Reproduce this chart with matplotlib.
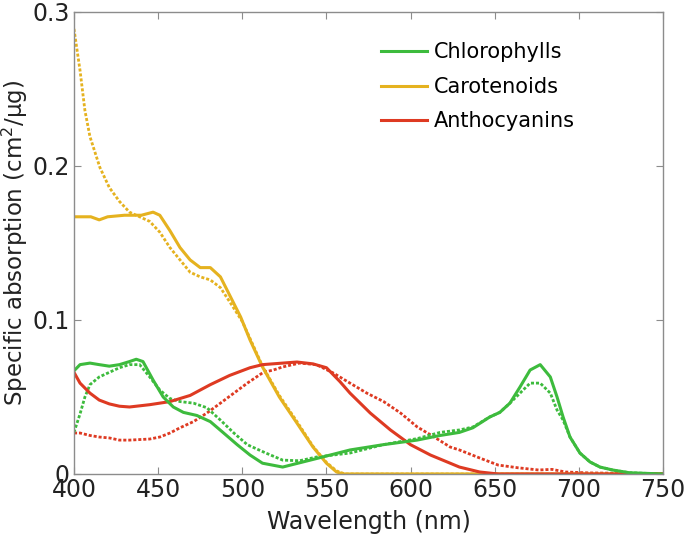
import numpy as np
import matplotlib
matplotlib.use('Agg')
import matplotlib.pyplot as plt

GREEN = '#3dbb3d'
YELLOW = '#e5b21f'
RED = '#de3a22'
GREY = '#8c8c8c'

# Chlorophylls (solid / dashed)
chl_wl = [400, 403.6, 409.5, 415, 421, 427, 433, 437, 441, 447, 453, 459, 465, 473, 481,
          488.5, 497, 504.6, 512, 524, 544, 564, 583.6, 603.8, 617.5, 629, 637, 647, 653,
          659, 665, 671, 677, 683, 687, 690.6, 694.7, 700.6, 706.6, 712.5, 720, 730, 750]
chl_solid = [0.067, 0.071, 0.072, 0.071, 0.070, 0.071, 0.073, 0.0745, 0.073, 0.061, 0.050,
             0.0435, 0.040, 0.038, 0.034, 0.027, 0.019, 0.0123, 0.007, 0.0045, 0.010, 0.0156,
             0.019, 0.022, 0.025, 0.027, 0.030, 0.037, 0.040, 0.046, 0.0565, 0.0675, 0.071,
             0.063, 0.050, 0.037, 0.024, 0.0136, 0.0078, 0.0045, 0.0026, 0.0008, 0.0]
chl_dash_wl = [400, 403.6, 406.5, 409.5, 415, 421, 427, 433, 439, 445, 451, 457, 463, 471,
               479, 487, 495, 503, 514, 524, 534, 544, 564, 583.6, 604, 617.5, 629, 637,
               647, 653, 659, 665, 671, 677, 683, 687, 690.6, 694.7, 700.6, 706.6, 712.5,
               720, 730, 750]
chl_dash = [0.027, 0.039, 0.050, 0.058, 0.063, 0.066, 0.069, 0.071, 0.071, 0.063, 0.0545,
            0.049, 0.047, 0.046, 0.043, 0.035, 0.0266, 0.019, 0.0136, 0.009, 0.0086, 0.011,
            0.0136, 0.019, 0.023, 0.027, 0.0286, 0.0305, 0.037, 0.040, 0.046, 0.0525, 0.059,
            0.059, 0.0525, 0.0415, 0.035, 0.024, 0.0136, 0.0078, 0.0045, 0.0026, 0.0008, 0.0]

# Carotenoids
car_wl = [400, 410, 415, 420, 430, 440, 447, 451, 457, 463, 469, 475, 481, 487, 493, 499,
          504.6, 512, 522, 532.5, 542, 550, 556, 560, 750]
car_solid = [0.167, 0.167, 0.165, 0.167, 0.168, 0.168, 0.170, 0.168, 0.158, 0.147, 0.139,
             0.134, 0.134, 0.128, 0.115, 0.102, 0.087, 0.0695, 0.050, 0.033, 0.0175, 0.007,
             0.0013, 0.0, 0.0]
car_dash_wl = [400, 403.6, 406.5, 409.5, 415.4, 421, 427, 433, 439, 445, 451, 457, 463, 469,
               475, 481, 487, 493, 500, 504.6, 512, 522, 532.5, 542, 550, 556, 561, 750]
car_dash = [0.289, 0.262, 0.236, 0.219, 0.199, 0.186, 0.177, 0.170, 0.167, 0.164, 0.157,
            0.147, 0.139, 0.131, 0.128, 0.126, 0.121, 0.111, 0.099, 0.088, 0.070, 0.051,
            0.034, 0.018, 0.0075, 0.002, 0.0, 0.0]

# Anthocyanins
ant_wl = [400, 403.6, 409.5, 415, 421, 427, 433, 445, 457, 469, 481, 492.5, 504.6, 512,
          524, 532.5, 542, 550, 558, 564, 576, 588, 600, 611.8, 623.5, 629, 641, 652, 750]
ant_solid = [0.066, 0.059, 0.0525, 0.048, 0.0455, 0.044, 0.0435, 0.045, 0.047, 0.051,
             0.058, 0.064, 0.069, 0.071, 0.072, 0.0727, 0.0715, 0.069, 0.060, 0.0525,
             0.0396, 0.0286, 0.019, 0.0123, 0.007, 0.0045, 0.0013, 0.0, 0.0]
ant_dash_wl = [400, 403.6, 409.5, 415, 421, 427, 433, 445, 451, 457, 463, 471, 479, 487,
               495, 503, 512.5, 518.4, 524, 534, 544, 554, 564, 574, 584, 594, 604, 614,
               623.5, 629, 641, 652, 664, 676, 684, 692, 706, 720, 750]
ant_dash = [0.0266, 0.0266, 0.025, 0.024, 0.0234, 0.022, 0.022, 0.0227, 0.024, 0.0266,
            0.030, 0.034, 0.0396, 0.046, 0.0525, 0.059, 0.066, 0.0675, 0.0695, 0.072,
            0.071, 0.0656, 0.059, 0.0525, 0.047, 0.0396, 0.0305, 0.024, 0.0175, 0.0156,
            0.0104, 0.0058, 0.004, 0.0026, 0.003, 0.0013, 0.0007, 0.0005, 0.0]

x_ticks = [400, 450, 500, 550, 600, 650, 700, 750]
y_ticks = [0, 0.1, 0.2, 0.3]
y_labels = ['0', '0.1', '0.2', '0.3']

fig = plt.figure(figsize=(6.85, 5.36), dpi=100)
ax = fig.add_axes([0.108, 0.1157, 0.860, 0.862])

dots = (0, (1.1, 0.7))
ax.plot(car_dash_wl, car_dash, color=YELLOW, lw=2.0, ls=dots)
ax.plot(ant_dash_wl, ant_dash, color=RED, lw=2.0, ls=dots)
ax.plot(chl_dash_wl, chl_dash, color=GREEN, lw=2.0, ls=dots)
ax.plot(car_wl, car_solid, color=YELLOW, lw=2.2, label='Carotenoids')
ax.plot(ant_wl, ant_solid, color=RED, lw=2.2, label='Anthocyanins')
ax.plot(chl_wl, chl_solid, color=GREEN, lw=2.2, label='Chlorophylls')

ax.set_xlim(400, 750)
ax.set_ylim(0, 0.3)
ax.set_xticks(x_ticks)
ax.set_yticks(y_ticks)
ax.set_yticklabels(y_labels)
ax.tick_params(direction='in', length=5, width=0.8, color=GREY, labelsize=17,
               top=True, right=True, pad=3, labelcolor='#222222')
for s in ax.spines.values():
    s.set_color(GREY)
    s.set_linewidth(1.0)

ax.set_xlabel('Wavelength (nm)', fontsize=17, labelpad=6, color='#222222')
ax.set_ylabel('Specific absorption (cm$^2$/\u03bcg)', fontsize=16.5, labelpad=2,
              color='#222222')

h, l = ax.get_legend_handles_labels()
order = [2, 0, 1]
ax.legend([h[i] for i in order], [l[i] for i in order], loc='upper left',
          bbox_to_anchor=(0.49, 0.975), frameon=False, fontsize=15,
          handlelength=2.2, handletextpad=0.3, labelspacing=0.7)

fig.savefig('out.png', dpi=100)
